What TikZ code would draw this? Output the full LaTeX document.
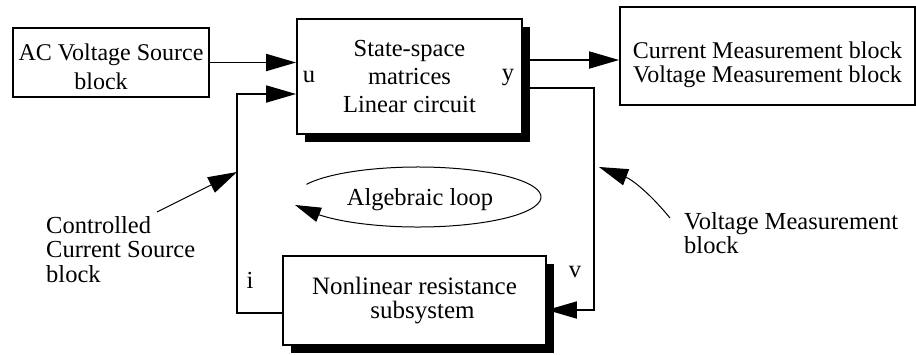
\documentclass[tikz,border=0pt]{standalone}
\usepackage{fontspec}
\setmainfont{Liberation Serif}
\usetikzlibrary{arrows.meta,shadows}
\begin{document}
\begin{tikzpicture}[x=1pt,y=1pt,
  box/.style={draw, line width=1.8pt, fill=white, inner sep=0pt, align=center, font=\fontsize{24}{24.5}\selectfont},
  shbox/.style={box, drop shadow={shadow xshift=8pt, shadow yshift=-8pt, fill=black, opacity=1}},
  lbl/.style={inner sep=0pt, font=\fontsize{24.5}{24.5}\selectfont},
  wire/.style={line width=1.8pt},
  arr/.style={wire, -{Triangle[length=30pt,width=17pt]}},
  thinline/.style={line width=1pt},
  thinarr/.style={thinline, -{Triangle[length=29pt,width=17pt]}}]
\useasboundingbox (0,0) rectangle (916,-354);

% blocks
\node[box, minimum width=196pt, minimum height=69pt, font=\fontsize{24}{29}\selectfont] (ac) at (111,-62.5)
  {\rule{0pt}{25.5pt}AC Voltage Source\\block\hspace*{20pt}};
\node[shbox, minimum width=225pt, minimum height=115pt, font=\fontsize{24.5}{28}\selectfont] (ss) at (409.5,-76.5)
  {State-space\\matrices\\Linear circuit};
\node[box, minimum width=295pt, minimum height=98pt] (cm) at (767.5,-56)
  {\rule{0pt}{34pt}Current Measurement block\\Voltage Measurement block};
\node[shbox, minimum width=263pt, minimum height=89pt, font=\fontsize{25}{24}\selectfont] (nl) at (414.5,-300.5)
  {Nonlinear resistance\\\hspace*{16pt}subsystem};

% port labels
\node[lbl, anchor=base] (u) at (309,-82) {u};
\node[lbl, anchor=base] (y) at (508,-80) {y};
\node[lbl, anchor=base] (i) at (250,-288) {i};
\node[lbl, anchor=base] (v) at (575,-277) {v};

% annotations
\node[lbl, anchor=base] (al) at (420,-205) {Algebraic loop};
\node[lbl, align=left, anchor=north west] (cc) at (46,-216) {Controlled\\Current Source\\block};
\node[lbl, align=left, anchor=north west] (vm) at (684,-212) {Voltage Measurement\\block};

% coordinates
\coordinate (fbB) at (237,-313);
\coordinate (fbT) at (237,-94);
\coordinate (yo1) at (522,-60);
\coordinate (yo2) at (522,-88);
\coordinate (vr1) at (594,-88);
\coordinate (vr2) at (594,-310);
\coordinate (cs) at (157,-212);
\coordinate (cst) at (237,-172);
\coordinate (vs) at (670,-218);
\coordinate (vst) at (599,-167);
\coordinate (ec) at (418,-197);
\coordinate (et) at (295,-205);

% connectors
\draw[arr] (ac.east) -- (ac.east -| ss.west);
\draw[arr] (fbB -| nl.west) -- (fbB) -- (fbT) -- (fbT -| ss.west);
\draw[arr] (yo1) -- (yo1 -| cm.west);
\draw[arr] (yo2) -- (vr1) -- (vr2) -- (vr2 -| nl.east);

% annotation arrows
\draw[thinarr] (cs) -- (cst);
\draw[thinarr] (vs) to[bend right=15] (vst);
\draw[thinline, -{Triangle[length=26pt,width=15pt]}] (ec) ++(155:123 and 30)
  arc[start angle=155, end angle=-143, x radius=123, y radius=30] -- (et);
\end{tikzpicture}
\end{document}
